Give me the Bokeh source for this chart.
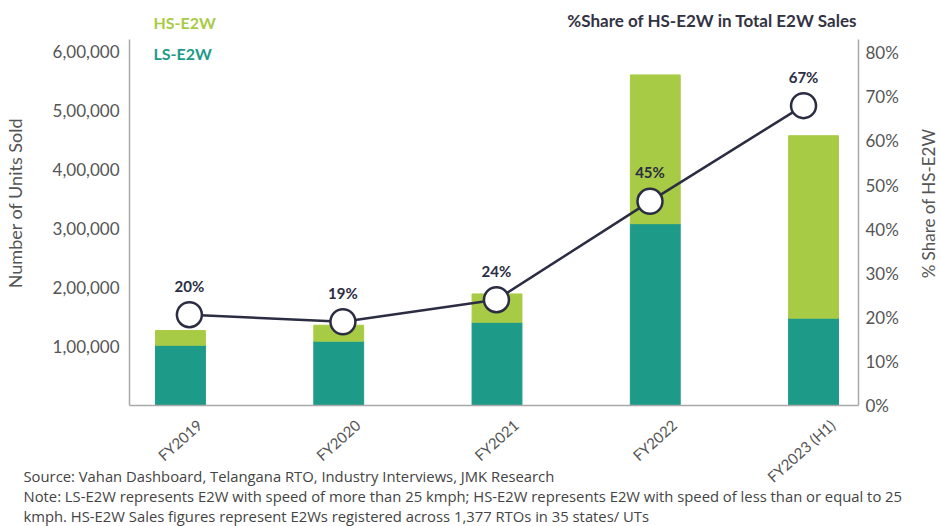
from math import pi
from bokeh.plotting import figure
from bokeh.models import (Range1d, LinearAxis, FixedTicker, Label, ColumnDataSource,
                          PrintfTickFormatter, Title)
from bokeh.embed import file_html
from bokeh.resources import INLINE
from bokeh.core.properties import value

# ---------------- data ----------------
years = ["FY2019", "FY2020", "FY2021", "FY2022", "FY2023 (H1)"]
ls_e2w = [102000, 109000, 141000, 308000, 148000]
hs_e2w = [25000, 27000, 48000, 252000, 309000]
share_pct = [20.6, 19.0, 24.0, 46.3, 68.0]
share_labels = ["20%", "19%", "24%", "45%", "67%"]
units_ticks = [100000, 200000, 300000, 400000, 500000, 600000]
units_tick_labels = ["1,00,000", "2,00,000", "3,00,000", "4,00,000", "5,00,000", "6,00,000"]
share_ticks = [0, 10, 20, 30, 40, 50, 60, 70, 80]
source_note = "Source: Vahan Dashboard, Telangana RTO, Industry Interviews, JMK Research"
note_line1 = ("Note: LS-E2W represents E2W with speed of more than 25 kmph; HS-E2W "
              "represents E2W with speed of less than or equal to 25")
note_line2 = ("kmph. HS-E2W Sales figures represent E2Ws registered across 1,377 RTOs "
              "in 35 states/ UTs")

# ---------------- style ----------------
FONT = "Lato"
NOTE_FONT = "Open Sans"
TEAL = "#1e9a89"
GREEN = "#a8cb45"
NAVY = "#2b2d42"
AXIS_GRAY = "#a9a9a9"
TEXT_GRAY = "#555555"

W, H = 940, 526
FRAME_L, FRAME_R, FRAME_T, FRAME_B = 128, 858, 0, 405
X0, X1 = -0.322, 4.284
Y_TOP = 620000                          # value at the top end of the left axis line
Y1 = Y_TOP * FRAME_B / (FRAME_B - 39)   # frame extends above the axis line
S_TOP = 83
S1 = S_TOP * FRAME_B / (FRAME_B - 39)


def dx(px):
    return X0 + (px - FRAME_L) / (FRAME_R - FRAME_L) * (X1 - X0)


def dy(py):
    return (FRAME_B - py) / (FRAME_B - FRAME_T) * Y1


idx = list(range(len(years)))
total = [a + b for a, b in zip(ls_e2w, hs_e2w)]
src = ColumnDataSource(dict(x=idx, ls=ls_e2w, total=total, share=share_pct,
                            lab=share_labels))

p = figure(width=W, height=H, output_backend="svg", toolbar_location=None,
           x_range=Range1d(X0, X1), y_range=Range1d(0, Y1),
           min_border_left=FRAME_L, min_border_right=W - FRAME_R,
           min_border_top=FRAME_T, min_border_bottom=H - FRAME_B)
p.outline_line_color = None
p.xgrid.visible = False
p.ygrid.visible = False
p.background_fill_color = "white"
p.border_fill_color = "white"

p.extra_y_ranges = {"share": Range1d(0, S1)}
p.extra_x_ranges = {"line": Range1d(-0.39, 4.358)}

# bars
p.vbar(x="x", bottom=0, top="ls", width=0.315, color=TEAL, source=src)
p.vbar(x="x", bottom="ls", top="total", width=0.315, color=GREEN, source=src)

# share line
p.line(x="x", y="share", source=src, x_range_name="line", y_range_name="share",
       line_color=NAVY, line_width=2.5)
p.scatter(x="x", y="share", source=src, x_range_name="line", y_range_name="share",
          marker="circle", size=25, fill_color="white", line_color=NAVY, line_width=2.5)
p.text(x="x", y="share", text="lab", source=src, x_range_name="line", y_range_name="share",
       y_offset=-29, text_align="center", text_baseline="middle",
       text_font=value(FONT), text_font_style="bold", text_font_size="15px",
       text_color=NAVY)


# axes
def style_axis(ax):
    ax.axis_line_color = AXIS_GRAY
    ax.axis_line_width = 1.5
    ax.major_tick_line_color = None
    ax.minor_tick_line_color = None
    ax.major_tick_out = 0
    ax.major_tick_in = 0
    ax.major_label_text_font = FONT
    ax.major_label_text_font_size = "17px"
    ax.major_label_text_color = TEXT_GRAY
    ax.axis_label_text_font = FONT
    ax.axis_label_text_font_size = "18px"
    ax.axis_label_text_font_style = "normal"
    ax.axis_label_text_color = TEXT_GRAY


ya = p.yaxis[0]
style_axis(ya)
ya.bounds = (0, Y_TOP)
ya.ticker = FixedTicker(ticks=units_ticks)
ya.major_label_overrides = {t: l for t, l in zip(units_ticks, units_tick_labels)}
ya.major_label_standoff = 10
ya.axis_label = "Number of Units Sold"
ya.axis_label_standoff = 24

LABEL_SHIFT = 0.12
xa = p.xaxis[0]
style_axis(xa)
xa.major_label_text_font_size = "15px"
xticks = [i + LABEL_SHIFT for i in idx]
xa.ticker = FixedTicker(ticks=xticks)
xa.major_label_overrides = {t: y for t, y in zip(xticks, years)}
xa.major_label_orientation = 0.73
xa.major_label_standoff = 17

ra = LinearAxis(y_range_name="share", ticker=FixedTicker(ticks=share_ticks),
                formatter=PrintfTickFormatter(format="%d%%"), bounds=(0, S_TOP))
style_axis(ra)
ra.major_label_standoff = 7
p.add_layout(ra, "right")

# right axis title, reading bottom-to-top, kept in the right side panel
p.add_layout(Label(x=dx(928), y=dy(203), text="% Share of HS-E2W", angle=pi / 2,
                   text_font=FONT, text_font_size="17px", text_color=TEXT_GRAY,
                   text_align="center", text_baseline="middle"), "right")


# texts inside the (extended) frame
def add_label(px, py, text, size, color, style="normal", align="left"):
    p.add_layout(Label(x=dx(px), y=dy(py), text=text,
                       text_font=FONT, text_font_size=size, text_color=color,
                       text_font_style=style, text_align=align,
                       text_baseline="middle"))


add_label(152, 22, "HS-E2W", "16px", GREEN, style="bold")
add_label(152, 53, "LS-E2W", "16px", TEAL, style="bold")
add_label(857, 20, "%Share of HS-E2W in Total E2W Sales", "17px", "#333344",
          style="bold", align="right")

# footnotes below the axis (one multi-line title, pulled up by a negative standoff)
p.add_layout(Title(text="\n".join([source_note, note_line1, note_line2]),
                   align="left", vertical_align="top", offset=22 - FRAME_L, standoff=-60,
                   text_font=NOTE_FONT, text_font_size="14.8px", text_line_height=1.0,
                   text_font_style="normal", text_color="#444444"), "below")

open("out.html", "w").write(file_html(p, INLINE))
